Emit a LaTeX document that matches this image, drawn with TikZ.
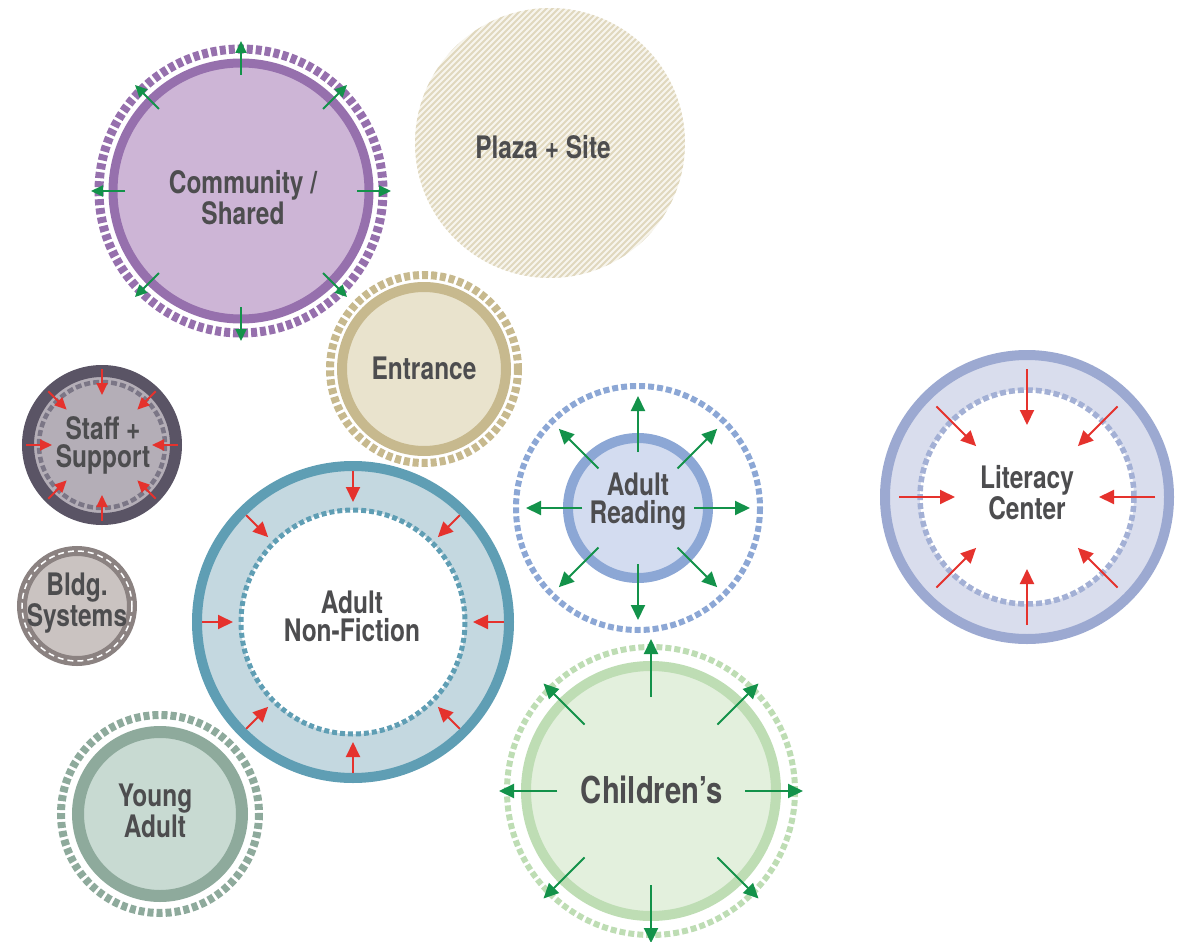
\documentclass[tikz,border=0pt]{standalone}
\usepackage{fontspec}
\newfontfamily\lblfont{TeX Gyre Heros}[FakeStretch=0.79]
\usetikzlibrary{arrows.meta}

\definecolor{txtgray}{HTML}{4D4D4F}
\definecolor{arrowred}{HTML}{E5322D}
\definecolor{arrowgreen}{HTML}{13924A}
\definecolor{commRing}{HTML}{9670AD}
\definecolor{commFill}{HTML}{CDB5D6}
\definecolor{plazaFill}{HTML}{F7F5ED}
\definecolor{plazaLine}{HTML}{E0D8BE}
\definecolor{entrRing}{HTML}{C7B98E}
\definecolor{entrFill}{HTML}{E9E3CD}
\definecolor{staffRing}{HTML}{5A5465}
\definecolor{staffDash}{HTML}{7B7686}
\definecolor{staffFill}{HTML}{B4AEB7}
\definecolor{bldgRing}{HTML}{8B8281}
\definecolor{bldgFill}{HTML}{CAC3C1}
\definecolor{anfRing}{HTML}{5F9EB4}
\definecolor{anfFill}{HTML}{C4D8E0}
\definecolor{readRing}{HTML}{8CA7D5}
\definecolor{readFill}{HTML}{D3DCF0}
\definecolor{litRing}{HTML}{9CA9D1}
\definecolor{litDash}{HTML}{A3B0D5}
\definecolor{litFill}{HTML}{D9DDED}
\definecolor{kidRing}{HTML}{BEDDB4}
\definecolor{kidFill}{HTML}{E3F0DD}
\definecolor{yaRing}{HTML}{8EAA9C}
\definecolor{yaFill}{HTML}{C8DAD2}

\tikzset{
  lbl/.style={font=\lblfont\bfseries\fontsize{31}{28}\selectfont, text=txtgray, align=center, inner sep=0pt},
  dashring/.style={dash pattern=on 6pt off 3pt},
  inarrow/.style={draw=arrowred, fill=arrowred, line width=2pt, -{Triangle[length=15pt,width=14pt]}},
  outarrow/.style={draw=arrowgreen, fill=arrowgreen, line width=2pt, -{Triangle[length=15pt,width=14pt]}},
  smallarrow/.style={-{Triangle[length=12pt,width=11pt]}},
}

\begin{document}
\begin{tikzpicture}[x=1pt,y=-1pt]
  \useasboundingbox (0,0) rectangle (1189,942);

  \coordinate (cs) at (241,191);
  \coordinate (plaza) at (550,143);
  \coordinate (entr) at (424,369);
  \coordinate (staff) at (102,445);
  \coordinate (bldg) at (77,606);
  \coordinate (anf) at (353,622);
  \coordinate (read) at (638,508);
  \coordinate (lit) at (1027,497);
  \coordinate (kid) at (651,791);
  \coordinate (ya) at (160,814);

  % plaza + site
  \fill[plazaFill] (plaza) circle (135);
  \begin{scope}
    \clip (plaza) circle (135);
    \foreach \k in {-288,-282,...,288}
      \draw[plazaLine, line width=2pt] ([shift={(\k-150,150)}]plaza) -- ++(300,-300);
  \end{scope}

  % community / shared
  \draw[commRing, line width=9pt, dashring] (cs) circle (142);
  \filldraw[fill=commFill, draw=commRing, line width=9pt] (cs) circle (128);
  \foreach \a in {0,45,...,315}
    \draw[outarrow, smallarrow] ([shift={(\a:116)}]cs) -- ([shift={(\a:150)}]cs);

  % entrance
  \draw[entrRing, line width=8pt, dashring] (entr) circle (94);
  \filldraw[fill=entrFill, draw=entrRing, line width=10pt] (entr) circle (82);

  % staff + support
  \filldraw[fill=staffFill, draw=staffRing, line width=12pt] (staff) circle (74);
  \draw[staffDash, line width=4.5pt, dashring] (staff) circle (63);
  \foreach \a in {0,45,...,315}
    \draw[inarrow, smallarrow] ([shift={(\a:76)}]staff) -- ([shift={(\a:50)}]staff);

  % bldg. systems
  \filldraw[fill=bldgFill, draw=bldgRing, line width=10pt] (bldg) circle (55);
  \draw[white, line width=1.5pt, dash pattern=on 6pt off 4pt] (bldg) circle (55);

  % adult non-fiction
  \filldraw[fill=anfFill, draw=anfRing, line width=10pt] (anf) circle (156);
  \fill[white] (anf) circle (112);
  \draw[anfRing, line width=5pt, dash pattern=on 5pt off 3pt] (anf) circle (112);
  \foreach \a in {0,45,...,315}
    \draw[inarrow] ([shift={(\a:151)}]anf) -- ([shift={(\a:120)}]anf);

  % adult reading
  \draw[readRing, line width=6pt, dashring] (read) circle (122);
  \filldraw[fill=readFill, draw=readRing, line width=10pt] (read) circle (70);
  \foreach \a in {0,45,...,315}
    \draw[outarrow] ([shift={(\a:56)}]read) -- ([shift={(\a:112)}]read);

  % literacy center
  \filldraw[fill=litFill, draw=litRing, line width=10pt] (lit) circle (142);
  \fill[white] (lit) circle (107);
  \draw[litDash, line width=5.5pt, dashring] (lit) circle (107);
  \foreach \a in {0,45,...,315}
    \draw[inarrow] ([shift={(\a:128)}]lit) -- ([shift={(\a:72)}]lit);

  % children's
  \draw[kidRing, line width=6pt, dashring] (kid) circle (144);
  \filldraw[fill=kidFill, draw=kidRing, line width=10pt] (kid) circle (125);
  \foreach \a in {0,45,...,315}
    \draw[outarrow] ([shift={(\a:94)}]kid) -- ([shift={(\a:152)}]kid);

  % young adult
  \draw[yaRing, line width=8pt, dashring] (ya) circle (99);
  \filldraw[fill=yaFill, draw=yaRing, line width=12pt] (ya) circle (82);

  % labels
  \node[lbl] (csLabel) at (243,198) {Community /\\Shared};
  \node[lbl] (plazaLabel) at (543,147) {Plaza + Site};
  \node[lbl] (entrLabel) at (424,368) {Entrance};
  \node[lbl] (staffLabel) at (103,445) {Staff +\\Support};
  \node[lbl] (bldgLabel) at (77,603) {Bldg.\\Systems};
  \node[lbl] (anfLabel) at (352,616) {Adult\\Non-Fiction};
  \node[lbl] (readLabel) at (638,502) {Adult\\Reading};
  \node[lbl] (litLabel) at (1027,493) {Literacy\\Center};
  \node[lbl, font=\lblfont\bfseries\fontsize{37}{34}\selectfont] (kidLabel) at (652,790) {Children’s};
  \node[lbl] (yaLabel) at (155,811) {Young\\Adult};
\end{tikzpicture}
\end{document}
